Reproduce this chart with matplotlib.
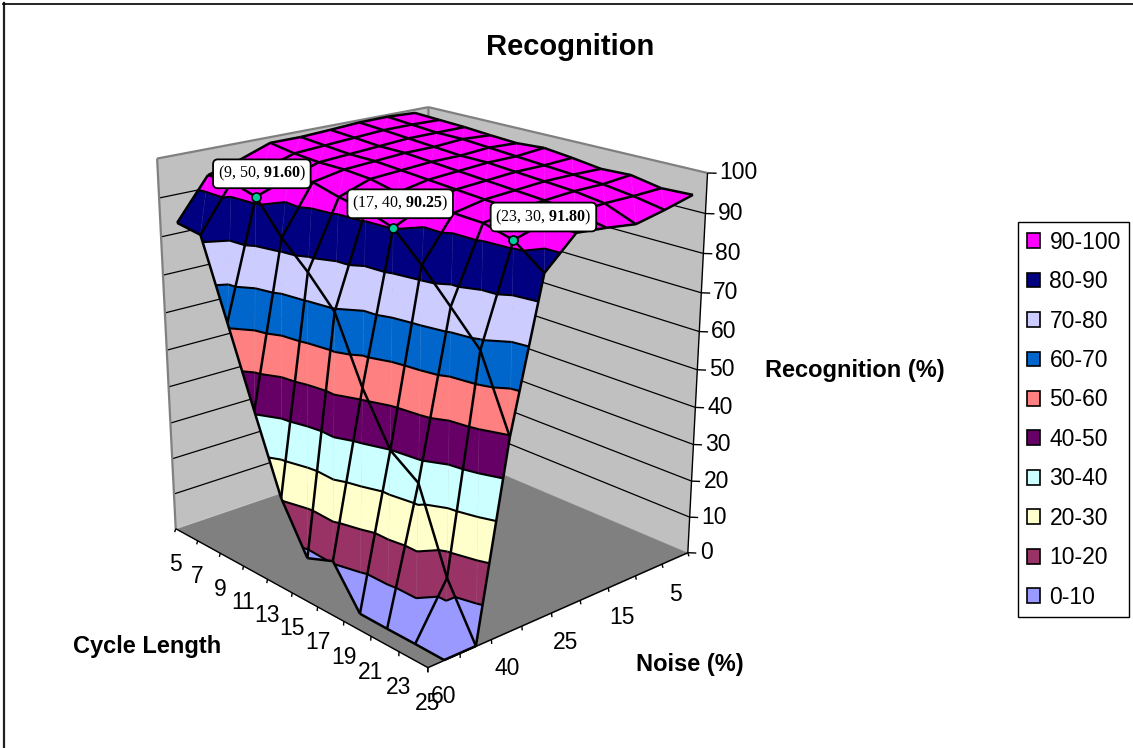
import numpy as np
import matplotlib
matplotlib.use('Agg')
import matplotlib.pyplot as plt
from matplotlib.lines import Line2D
from matplotlib.patches import Patch
from mpl_toolkits.mplot3d.art3d import Poly3DCollection, Line3DCollection

W, H = 1133, 748
plt.rcParams['font.family'] = 'Liberation Sans'
plt.rcParams['mathtext.fontset'] = 'custom'
plt.rcParams['mathtext.rm'] = 'Liberation Serif'
plt.rcParams['mathtext.bf'] = 'Liberation Serif:bold'

cycle_lengths = [5, 7, 9, 11, 13, 15, 17, 19, 21, 23, 25]
noise_levels = [60, 50, 40, 30, 25, 20, 15, 10, 5]
noise_labels = ['60', '', '40', '', '25', '', '15', '', '5']

# recognition (%) per noise level, one value per cycle length
rec_60 = [82.7, 81.7, 61.3, 40.8, 20.6, 7.8, 10.6, 0.3, 0.2, 0.2, 0.1]
rec_50 = [93.3, 93.4, 91.6, 83.3, 76.9, 69.3, 52.8, 39.9, 34.7, 13.9, 0.1]
rec_40 = [95.6, 95.0, 94.5, 95.5, 93.7, 92.5, 90.25, 83.4, 75.7, 67.8, 49.6]
rec_30 = [98.5, 97.5, 97.0, 97.0, 96.5, 95.0, 93.9, 94.0, 93.7, 91.8, 86.3]
rec_25 = [98.5, 98.0, 97.5, 97.5, 97.0, 96.5, 96.0, 95.5, 95.0, 94.0, 93.7]
rec_20 = [98.9, 98.5, 98.0, 98.0, 97.5, 97.0, 96.5, 96.0, 95.5, 94.5, 93.0]
rec_15 = [99.4, 99.0, 98.5, 98.0, 97.5, 97.5, 97.0, 96.5, 96.0, 95.0, 92.0]
rec_10 = [99.5, 99.0, 98.5, 98.5, 98.0, 97.5, 97.0, 96.5, 96.0, 95.0, 93.6]
rec_5 = [99.1, 98.8, 98.5, 98.0, 97.6, 98.1, 97.3, 96.3, 96.6, 95.2, 95.5]

band_labels = ['0-10', '10-20', '20-30', '30-40', '40-50', '50-60', '60-70', '70-80', '80-90', '90-100']
band_colors = ['#9999FF', '#993366', '#FFFFCC', '#CCFFFF', '#660066', '#FF8080', '#0066CC', '#CCCCFF', '#000080', '#FF00FF']

callouts = [(9, 50, 91.60), (17, 40, 90.25), (23, 30, 91.80)]
callout_offsets = [(6, -23), (7, -24), (30, -23)]

Z = np.array([rec_60, rec_50, rec_40, rec_30, rec_25, rec_20, rec_15, rec_10, rec_5], dtype=float)
ni, nj = len(cycle_lengths), len(noise_levels)

fig = plt.figure(figsize=(W / 100, H / 100), dpi=100)
ax = fig.add_axes([0, 0, 1, 1], projection='3d', computed_zorder=False)
ax.set_xlim(0, 1)
ax.set_ylim(0, 1)
ax.set_zlim(0, 100)
ax.set_axis_off()
ax.patch.set_alpha(0)

# camera fitted to the corners of the box in the picture
SIZE = 800.0
CX, CY = 417.36, 370.65
ax.view_init(elev=19.7925, azim=-41.8607)
ax.set_proj_type('persp', focal_length=0.4324)
ax.set_box_aspect((0.9979, 0.8960, 1), zoom=0.8077)
ax.set_position([(CX - SIZE / 2) / W, 1 - (CY + SIZE / 2) / H, SIZE / W, SIZE / H])
ax.apply_aspect()


def to_pixels(pt):
    v = ax.get_proj() @ np.array([pt[0], pt[1], pt[2], 1.0])
    d = ax.transData.transform((v[0] / v[3], v[1] / v[3]))
    return d[0], H - d[1]


def label_at(pt, dx, dy, s, **kw):
    px, py = to_pixels(pt)
    return fig.text((px + dx) / W, 1 - (py + dy) / H, s, **kw)


def node(i, j):
    # cycle length sits on the ticks, noise sits between them
    return np.array([i / (ni - 1), (j + 0.5) / nj, Z[j, i]])


def clip_poly(poly, level, keep_above):
    out = []
    n = len(poly)
    for k in range(n):
        a, b = poly[k], poly[(k + 1) % n]
        ina = a[2] >= level if keep_above else a[2] <= level
        inb = b[2] >= level if keep_above else b[2] <= level
        if ina:
            out.append(a)
        if ina != inb:
            t = (level - a[2]) / (b[2] - a[2])
            out.append(a + t * (b - a))
    return out


tris = []
for j in range(nj - 1):
    for i in range(ni - 1):
        tris.append([node(i, j), node(i + 1, j), node(i, j + 1)])
        tris.append([node(i + 1, j), node(i + 1, j + 1), node(i, j + 1)])

polys, cols, contours = [], [], []
for b in range(10):
    lo, hi = b * 10, (b + 1) * 10
    for tri in tris:
        c = clip_poly(tri, lo, True)
        if c:
            c = clip_poly(c, hi, False)
        if len(c) >= 3:
            polys.append(np.array(c))
            cols.append(band_colors[b])
for lev in range(10, 100, 10):
    for tri in tris:
        seg = []
        for k in range(3):
            a, b = tri[k], tri[(k + 1) % 3]
            if (a[2] - lev) * (b[2] - lev) < 0:
                seg.append(a + (lev - a[2]) / (b[2] - a[2]) * (b - a))
        if len(seg) == 2:
            contours.append(seg)

# walls and floor
wall_left = [(0, 0, 0), (0, 1, 0), (0, 1, 100), (0, 0, 100)]
wall_right = [(0, 1, 0), (1, 1, 0), (1, 1, 100), (0, 1, 100)]
floor = [(0, 0, 0), (1, 0, 0), (1, 1, 0), (0, 1, 0)]
ax.add_collection3d(Poly3DCollection([wall_left, wall_right], facecolors='#C0C0C0', edgecolors='#C0C0C0', linewidths=0.3, zorder=1), autolim=False)
grid = []
for z in range(10, 100, 10):
    grid += [[(0, 0, z), (0, 1, z)], [(0, 1, z), (1, 1, z)]]
ax.add_collection3d(Line3DCollection(grid, colors='black', linewidths=0.9, zorder=2), autolim=False)
ax.add_collection3d(Poly3DCollection([floor], facecolors='#808080', edgecolors='#808080', linewidths=0.3, zorder=3), autolim=False)
edge = [[(0, 0, 0), (0, 0, 100)], [(0, 0, 100), (0, 1, 100)], [(0, 1, 100), (1, 1, 100)], [(0, 1, 70), (0, 1, 100)]]
ax.add_collection3d(Line3DCollection(edge, colors='#808080', linewidths=1.6, zorder=3), autolim=False)

# axis lines and tick marks
TICK = 0.016
axes_lines = [[(0, 0, 0), (1, 0, 0)], [(1, 0, 0), (1, 1, 0)], [(1, 1, 0), (1, 1, 100)]]
for i in range(ni):
    x = i / (ni - 1)
    axes_lines.append([(x, 0, 0), (x + TICK, -TICK, 0)])
for j in range(nj + 1):
    y = j / nj
    axes_lines.append([(1, y, 0), (1 + TICK, y - TICK, 0)])
for z in range(0, 101, 10):
    axes_lines.append([(1, 1, z), (1 + TICK, 1 + TICK, z)])
ax.add_collection3d(Line3DCollection(axes_lines, colors='black', linewidths=1.0, zorder=3), autolim=False)

# surface
ax.add_collection3d(Poly3DCollection(polys, facecolors=cols, edgecolors=cols, linewidths=0.3, zorder=4), autolim=False)
diag = [[node(i + 1, j), node(i, j + 1)] for j in range(nj - 1) for i in range(ni - 1)]
ax.add_collection3d(Line3DCollection(diag, colors=(1, 1, 1, 0.1), linewidths=0.4, zorder=5), autolim=False)
ax.add_collection3d(Line3DCollection(contours, colors='black', linewidths=1.5, zorder=6), autolim=False)
mesh = [[node(i, j), node(i + 1, j)] for j in range(nj) for i in range(ni - 1)]
mesh += [[node(i, j), node(i, j + 1)] for j in range(nj - 1) for i in range(ni)]
ax.add_collection3d(Line3DCollection(mesh, colors='black', linewidths=1.8, zorder=7), autolim=False)

# tick labels
for i, c in enumerate(cycle_lengths):
    label_at((i / (ni - 1), 0, 0), 0, 36, str(c), fontsize=16.5, ha='center', va='center')
for j, lab in enumerate(noise_labels):
    if lab:
        label_at((1, (j + 0.5) / nj, 0), 0, 36, lab, fontsize=16.5, ha='center', va='center')
for z in range(0, 101, 10):
    label_at((1, 1, z), 12, 0, str(z), fontsize=16.5, ha='left', va='center')

# highlighted points
for (c, n, v), (dx, dy) in zip(callouts, callout_offsets):
    i, j = cycle_lengths.index(c), noise_levels.index(n)
    pt = (i / (ni - 1), (j + 0.5) / nj, v)
    ax.plot([pt[0]], [pt[1]], [pt[2]], 'o', color='#00CC99', mec='black', mew=1.2, ms=6.5, zorder=9)
    label_at(pt, dx, dy, f'({c}, {n}, $\\mathbf{{{v:.2f}}}$)', family='Liberation Serif', fontsize=11.5,
             ha='center', va='center', zorder=10,
             bbox=dict(boxstyle='round,pad=0.3', fc='white', ec='black', lw=1.3))

fig.text(570 / W, 1 - 47 / H, 'Recognition', fontsize=21, fontweight='bold', ha='center', va='center')
fig.text(147 / W, 1 - 646 / H, 'Cycle Length', fontsize=17, fontweight='bold', ha='center', va='center')
fig.text(690 / W, 1 - 664 / H, 'Noise (%)', fontsize=17, fontweight='bold', ha='center', va='center')
fig.text(855 / W, 1 - 370 / H, 'Recognition (%)', fontsize=17, fontweight='bold', ha='center', va='center')

handles = [Patch(facecolor=band_colors[b], edgecolor='black', linewidth=1.2, label=band_labels[b]) for b in range(9, -1, -1)]
leg = fig.legend(handles=handles, loc='upper left', bbox_to_anchor=(1018 / W, 1 - 222 / H), borderaxespad=0,
                 fontsize=16.5, handlelength=0.6, handleheight=0.62, labelspacing=0.717, handletextpad=0.39,
                 borderpad=0.38, fancybox=False, edgecolor='black', framealpha=1)
leg.get_frame().set_linewidth(1.0)

# chart area border, only on the top and left
fig.add_artist(Line2D([3.5 / W, 3.5 / W], [0, 1 - 3 / H], color='#202020', lw=1.6, transform=fig.transFigure))
fig.add_artist(Line2D([3 / W, 1], [1 - 3.5 / H, 1 - 3.5 / H], color='black', lw=1.2, transform=fig.transFigure))
fig.savefig('out.png', dpi=100)
